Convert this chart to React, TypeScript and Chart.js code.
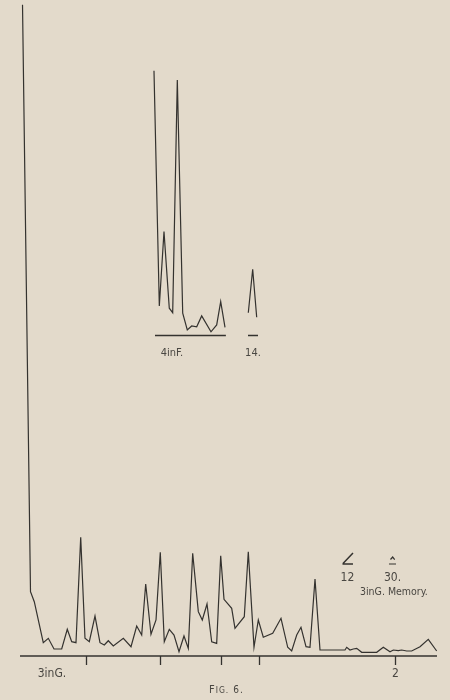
import React, { useEffect, useRef } from "react";
import { Chart, registerables } from "chart.js";

Chart.register(...registerables);

// ---- data (time units along the drum, height units above baseline) ----
const mainX = [0.67, 2.8, 3.81, 6.21, 7.55, 9.07, 11.12, 12.61, 13.79, 14.93, 16.19, 17.33, 18.48, 20.0, 21.33, 22.48, 23.55, 24.88, 27.55, 29.6, 31.12, 32.45, 33.52, 34.93, 36.27, 37.41, 38.48, 39.81, 41.07, 42.4, 43.73, 44.88, 46.05, 47.55, 48.61, 49.87, 51.12, 52.45, 53.52, 54.4, 56.45, 57.33, 59.81, 60.88, 62.4, 63.55, 64.88, 67.39, 69.6, 71.39, 72.45, 73.79, 74.93, 76.27, 77.33, 78.67, 80.0, 86.67, 87.12, 88.0, 88.88, 89.79, 91.12, 95.12, 96.88, 98.67, 99.55, 100.88, 101.79, 103.12, 104.45, 106.67, 108.88, 111.12];
const mainY = [100.2, 9.9, 8.35, 2.05, 2.72, 1.08, 1.08, 4.11, 2.2, 2.05, 18.26, 2.72, 2.2, 6.15, 2.05, 1.69, 2.35, 1.54, 2.72, 1.43, 4.62, 3.23, 11.08, 3.34, 5.54, 15.95, 2.2, 4.11, 3.23, 0.66, 3.08, 1.18, 15.8, 6.82, 5.54, 8.0, 2.2, 1.95, 15.43, 8.72, 7.34, 4.26, 6.05, 16.05, 1.34, 5.54, 2.88, 3.49, 5.8, 1.34, 0.77, 3.23, 4.42, 1.43, 1.34, 11.85, 0.92, 0.92, 1.34, 0.92, 1.08, 1.18, 0.57, 0.57, 1.34, 0.66, 0.92, 0.82, 0.92, 0.77, 0.77, 1.43, 2.57, 0.77];
const mainAxisX = [0, 111.2];
const mainTicks = [17.6, 37.33, 53.7, 63.7, 100];
const mainTickLabels = ["", "", "", "", "2"];

const fX = [-0.27, 1.15, 2.4, 3.81, 4.72, 5.95, 7.39, 8.61, 9.79, 11.12, 12.45, 14.93, 16.45, 17.52, 18.67];
const fY = [99.9, 11.1, 39.2, 10.3, 8.6, 96.4, 8.4, 2.1, 3.6, 3.3, 7.4, 1.4, 4.0, 12.8, 3.1];
const fAxisX = [0, 18.9];

const m14X = [24.88, 26.05, 27.12];
const m14Y = [8.6, 25.0, 6.9];
const m14AxisX = [24.8, 27.47];

const BG = "#e3dacb";
const INK = "#34322f";
const TEXT = "#4a4742";
const FONT = "'DejaVu Sans Condensed', 'Liberation Sans Narrow', 'DejaVu Sans', sans-serif";

const pts = (xs: number[], ys: number[]) => xs.map((x, i) => ({ x, y: ys[i] }));
const flat = (xs: number[]) => xs.map((x) => ({ x, y: 0 }));

const bgPlugin = {
  id: "bg",
  beforeDraw(chart: any) {
    const { ctx, width, height } = chart;
    ctx.save();
    ctx.fillStyle = BG;
    ctx.fillRect(0, 0, width, height);
    ctx.restore();
  },
};

const annotPlugin = {
  id: "annot",
  afterDatasetsDraw(chart: any) {
    const { ctx } = chart;
    const sx = chart.scales.x, sy = chart.scales.y, sx2 = chart.scales.x2, sy2 = chart.scales.y2;
    const base = sy.getPixelForValue(0);
    ctx.save();
    ctx.strokeStyle = INK;
    ctx.lineWidth = 1.3;
    // ticks on the main baseline
    mainTicks.forEach((t, i) => {
      const px = Math.round(sx.getPixelForValue(t)) + 0.5;
      ctx.beginPath();
      ctx.moveTo(px, base);
      ctx.lineTo(px, base + 9);
      ctx.stroke();
      if (mainTickLabels[i]) {
        ctx.fillStyle = TEXT;
        ctx.font = `12px ${FONT}`;
        ctx.textAlign = "center";
        ctx.textBaseline = "middle";
        ctx.fillText(mainTickLabels[i], px, base + 18);
      }
    });

    ctx.fillStyle = TEXT;
    ctx.textAlign = "center";
    ctx.textBaseline = "middle";
    ctx.font = `12px ${FONT}`;
    ctx.fillText("3inG.", sx.getPixelForValue(8.53), sy.getPixelForValue(-2.77));

    // inset labels
    ctx.font = `11px ${FONT}`;
    ctx.fillText("4inF.", sx2.getPixelForValue(4.53), sy2.getPixelForValue(-6.6));
    ctx.fillText("14.", sx2.getPixelForValue(26.13), sy2.getPixelForValue(-6.6));

    // memory labels
    const x12 = sx.getPixelForValue(87.33), x30 = sx.getPixelForValue(99.33);
    const yNum = sy.getPixelForValue(12);
    ctx.font = `12px ${FONT}`;
    ctx.fillText("12", x12, yNum);
    ctx.fillText("30.", x30, yNum);
    ctx.font = `10.5px ${FONT}`;
    ctx.fillText("3inG. Memory.", sx.getPixelForValue(99.7), sy.getPixelForValue(9.85));

    // symbols above 12 and 30
    ctx.lineWidth = 1.5;
    ctx.beginPath();
    ctx.moveTo(x12 - 4.5, yNum - 14.5);
    ctx.lineTo(x12 + 5.5, yNum - 25);
    ctx.moveTo(x12 - 5, yNum - 14);
    ctx.lineTo(x12 + 5.5, yNum - 14);
    ctx.stroke();
    ctx.lineWidth = 1.2;
    ctx.beginPath();
    ctx.moveTo(x30 - 2, yNum - 18.5);
    ctx.lineTo(x30 + 0.2, yNum - 21);
    ctx.lineTo(x30 + 2.2, yNum - 18.5);
    ctx.moveTo(x30 - 3.5, yNum - 14);
    ctx.lineTo(x30 + 3.5, yNum - 14);
    ctx.stroke();

    // caption
    const cy = sy.getPixelForValue(-5.23);
    let cx = sx.getPixelForValue(55.2) - 18;
    ctx.textAlign = "left";
    ctx.fillStyle = TEXT;
    ctx.font = `11px ${FONT}`;
    ctx.fillText("F", cx, cy);
    cx += ctx.measureText("F").width + 1;
    ctx.font = `8.5px ${FONT}`;
    (ctx as any).letterSpacing = "1px";
    ctx.fillText("IG.", cx, cy + 1);
    cx += ctx.measureText("IG.").width + 4;
    ctx.font = `10px ${FONT}`;
    ctx.fillText("6.", cx, cy + 0.5);
    (ctx as any).letterSpacing = "0px";
    ctx.restore();
  },
};

const line = (data: any[], xAxisID: string, yAxisID: string, width = 1.2) => ({
  data,
  xAxisID,
  yAxisID,
  showLine: true,
  borderColor: INK,
  borderWidth: width,
  pointRadius: 0,
  tension: 0,
  fill: false,
});

export default function App() {
  const ref = useRef<HTMLCanvasElement>(null);
  useEffect(() => {
    document.body.style.margin = "0";
    document.body.style.background = BG;
    const chart = new Chart(ref.current as HTMLCanvasElement, {
      type: "scatter",
      data: {
        datasets: [
          line(pts(mainX, mainY), "x", "y", 1.2),
          line(flat(mainAxisX), "x", "y", 1.5),
          line(pts(fX, fY), "x2", "y2", 1.2),
          line(flat(fAxisX), "x2", "y2", 1.5),
          line(pts(m14X, m14Y), "x2", "y2", 1.2),
          line(flat(m14AxisX), "x2", "y2", 1.5),
        ] as any,
      },
      options: {
        animation: false,
        responsive: false,
        maintainAspectRatio: false,
        layout: { padding: 0 },
        plugins: { legend: { display: false }, tooltip: { enabled: false } },
        events: [],
        scales: {
          x: { type: "linear", display: false, min: -5.333, max: 114.667 },
          y: { type: "linear", display: false, min: -6.769, max: 100.923 },
          x2: { type: "linear", axis: "x", display: false, min: -41.333, max: 78.667 },
          y2: { type: "linear", axis: "y", display: false, min: -137.55, max: 126.6 },
        } as any,
      },
      plugins: [bgPlugin, annotPlugin],
    });
    return () => chart.destroy();
  }, []);
  return (
    <div style={{ width: 450, height: 700 }}>
      <canvas ref={ref} width={450} height={700} style={{ display: "block" }} />
    </div>
  );
}
